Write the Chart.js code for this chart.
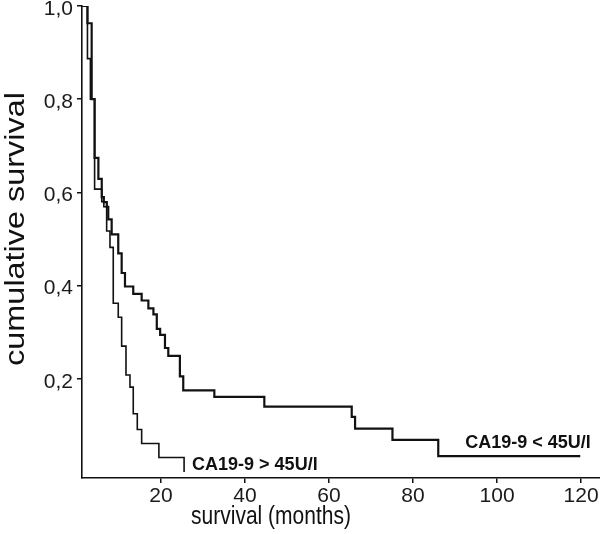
<!DOCTYPE html>
<html>
<head>
<meta charset="utf-8">
<script src="https://cdn.jsdelivr.net/npm/chart.js@4/dist/chart.umd.min.js"></script>
<style>
  html, body { margin: 0; padding: 0; background: #fff; }
  #wrap { width: 600px; height: 534px; position: relative; }
</style>
</head>
<body>
<div id="wrap"><canvas id="km"></canvas></div>
<script>
// Kaplan-Meier steps: time (months) where the curve drops, and the new value
const monthsLow = [1.2, 2.5, 3.5, 4.2, 5.1, 5.9, 6.4, 7.1, 7.45, 8.26, 9.83, 10.64, 11.43, 13.4, 15.4, 17.0,
  18.2, 19.0, 19.8, 20.95, 21.74, 24.5, 25.3, 32.7, 44.6, 65.4, 66.2, 75.1, 86.0, 119.8];
const survLow = [1.0, 0.963, 0.8, 0.674, 0.629, 0.59, 0.579, 0.569, 0.542, 0.51, 0.469, 0.427, 0.398, 0.382, 0.368, 0.351,
  0.338, 0.307, 0.294, 0.266, 0.249, 0.205, 0.175, 0.161, 0.14, 0.118, 0.093, 0.069, 0.034, 0.034];

const monthsHigh = [1.2, 2.5, 3.2, 4.2, 5.9, 6.4, 7.07, 7.86, 8.64, 9.83, 10.64, 11.67, 12.62, 13.4, 14.36, 15.4, 19.5, 25.5];
const survHigh = [1.0, 0.887, 0.8, 0.607, 0.58, 0.569, 0.517, 0.482, 0.362, 0.332, 0.27, 0.208, 0.182, 0.125, 0.091, 0.061, 0.031, 0.0];

const xTicks = [20, 40, 60, 80, 100, 120];
const yTicks = [0.2, 0.4, 0.6, 0.8, 1.0];

const groupLabels = ["CA19-9 > 45U/l", "CA19-9 < 45U/l"];
const labelAt = [{ x: 27.4, y: 0.015 }, { x: 92.4, y: 0.062 }];

const font = '"Liberation Sans", Arial, sans-serif';

function toPoints(xs, ys) {
  return xs.map((x, i) => ({ x: x, y: ys[i] }));
}

// axis titles and curve labels
const textPlugin = {
  id: "texts",
  afterDraw(chart) {
    const ctx = chart.ctx;
    const xs = chart.scales.x, ys = chart.scales.y;
    ctx.save();
    ctx.fillStyle = "#111";
    ctx.font = "bold 18px " + font;
    ctx.textAlign = "left";
    ctx.textBaseline = "middle";
    groupLabels.forEach((t, i) => {
      ctx.fillText(t, xs.getPixelForValue(labelAt[i].x), ys.getPixelForValue(labelAt[i].y));
    });

    // x title
    ctx.save();
    ctx.translate(271, 517);
    ctx.scale(1, 1.2);
    ctx.font = "21px " + font;
    ctx.textAlign = "center";
    ctx.fillText("survival (months)", 0, 0);
    ctx.restore();

    // y title
    ctx.save();
    ctx.translate(17, 229);
    ctx.rotate(-Math.PI / 2);
    ctx.scale(1.2, 1);
    ctx.font = "27px " + font;
    ctx.textAlign = "center";
    ctx.fillText("cumulative survival", 0, 0);
    ctx.restore();
    ctx.restore();
  }
};

new Chart(document.getElementById("km"), {
  type: "line",
  data: {
    datasets: [
      {
        label: "CA19-9 < 45U/l",
        data: toPoints(monthsLow, survLow),
        stepped: true,
        borderColor: "#111",
        borderWidth: 2.2,
        pointRadius: 0,
        fill: false
      },
      {
        label: "CA19-9 > 45U/l",
        data: toPoints(monthsHigh, survHigh),
        stepped: true,
        borderColor: "#111",
        borderWidth: 1.6,
        pointRadius: 0,
        fill: false
      }
    ]
  },
  options: {
    responsive: true,
    maintainAspectRatio: false,
    animation: false,
    layout: { padding: { top: 6, left: 0, right: 0, bottom: 0 } },
    plugins: { legend: { display: false }, tooltip: { enabled: false } },
    scales: {
      x: {
        type: "linear",
        min: 1.2,
        max: 124.5,
        afterBuildTicks: (s) => { s.ticks = xTicks.map(v => ({ value: v })); },
        afterFit: (s) => { s.height = 56; s.paddingLeft = 0; s.paddingRight = 0; },
        ticks: {
          font: { family: font, size: 21 },
          color: "#1a1a1a",
          padding: 1,
          maxRotation: 0,
          callback: (v) => String(v)
        },
        grid: { drawOnChartArea: false, tickLength: 5, color: "#111", lineWidth: 1.5 },
        border: { color: "#111", width: 1.6 }
      },
      y: {
        type: "linear",
        min: -0.013,
        max: 1.0,
        afterBuildTicks: (s) => { s.ticks = yTicks.map(v => ({ value: v })); },
        afterFit: (s) => { s.width = 82; s.paddingTop = 0; s.paddingBottom = 0; },
        ticks: {
          font: { family: font, size: 21 },
          color: "#1a1a1a",
          padding: 4,
          labelOffset: 3,
          callback: (v) => v.toFixed(1).replace(".", ",")
        },
        grid: { drawOnChartArea: false, tickLength: 5, color: "#111", lineWidth: 1.5 },
        border: { color: "#111", width: 1.6 }
      }
    }
  },
  plugins: [textPlugin]
});
</script>
</body>
</html>
